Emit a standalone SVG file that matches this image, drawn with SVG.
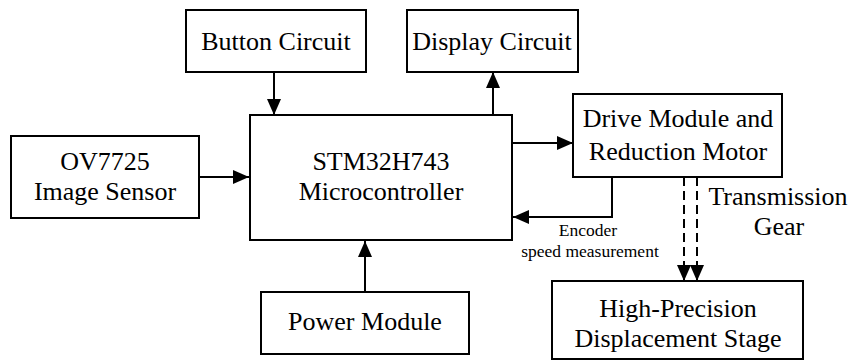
<svg xmlns="http://www.w3.org/2000/svg" width="848" height="362" viewBox="0 0 848 362">
<style>
.box{fill:#fff;stroke:#000;stroke-width:2}
.t{font-size:26px;fill:#000}
.s{font-size:17.5px;fill:#000}
.c{fill:none;stroke:#000;stroke-width:2}
.d{fill:none;stroke:#000;stroke-width:2;stroke-dasharray:9,5}
</style>
<defs>
<marker id="ah" viewBox="0 0 16 14" refX="16" refY="7" markerWidth="16" markerHeight="14" markerUnits="userSpaceOnUse" orient="auto">
<path d="M0,0 L16,7 L0,14 Z" fill="#000"/>
</marker>
</defs>
<rect width="848" height="362" fill="#fff"/>
<g id="connectors">
<path class="c" d="M274,72 V115" marker-end="url(#ah)"/>
<path class="c" d="M493,115 V72" marker-end="url(#ah)"/>
<path class="c" d="M199,177 H249" marker-end="url(#ah)"/>
<path class="c" d="M512,143 H573" marker-end="url(#ah)"/>
<path class="c" d="M612,177 V217 H513" marker-end="url(#ah)"/>
<path class="c" d="M365,292 V241" marker-end="url(#ah)"/>
<path class="d" d="M684,177 V281" marker-end="url(#ah)"/>
<path class="d" d="M697,177 V281" marker-end="url(#ah)"/>
<text class="s" x="588" y="236" text-anchor="middle" font-family="Liberation Serif, serif">Encoder</text>
<text class="s" x="590" y="257" text-anchor="middle" font-family="Liberation Serif, serif">speed measurement</text>
<text class="t" x="778" y="205" text-anchor="middle" font-family="Liberation Serif, serif">Transmission</text>
<text class="t" x="779" y="235" text-anchor="middle" font-family="Liberation Serif, serif">Gear</text>
</g>
<g id="button">
<rect class="box" x="186" y="10" width="180" height="62"/>
<text class="t" x="276" y="50" text-anchor="middle" font-family="Liberation Serif, serif">Button Circuit</text>
</g>
<g id="display">
<rect class="box" x="407" y="10" width="171" height="62"/>
<text class="t" x="492" y="50" text-anchor="middle" font-family="Liberation Serif, serif">Display Circuit</text>
</g>
<g id="mcu">
<rect class="box" x="250" y="115" width="262" height="125"/>
<text class="t" x="381" y="170" text-anchor="middle" font-family="Liberation Serif, serif">STM32H743</text>
<text class="t" x="381" y="200" text-anchor="middle" font-family="Liberation Serif, serif">Microcontroller</text>
</g>
<g id="sensor">
<rect class="box" x="11" y="136" width="188" height="82"/>
<text class="t" x="105" y="170" text-anchor="middle" font-family="Liberation Serif, serif">OV7725</text>
<text class="t" x="105" y="200" text-anchor="middle" font-family="Liberation Serif, serif">Image Sensor</text>
</g>
<g id="drive">
<rect class="box" x="573" y="94" width="209" height="83"/>
<text class="t" x="678" y="127" text-anchor="middle" font-family="Liberation Serif, serif">Drive Module and</text>
<text class="t" x="678" y="160" text-anchor="middle" font-family="Liberation Serif, serif">Reduction Motor</text>
</g>
<g id="power">
<rect class="box" x="261" y="292" width="208" height="62"/>
<text class="t" x="365" y="330" text-anchor="middle" font-family="Liberation Serif, serif">Power Module</text>
</g>
<g id="stage">
<rect class="box" x="552" y="281" width="251" height="78"/>
<text class="t" x="678" y="317" text-anchor="middle" font-family="Liberation Serif, serif">High-Precision</text>
<text class="t" x="678" y="347" text-anchor="middle" font-family="Liberation Serif, serif">Displacement Stage</text>
</g>
</svg>
